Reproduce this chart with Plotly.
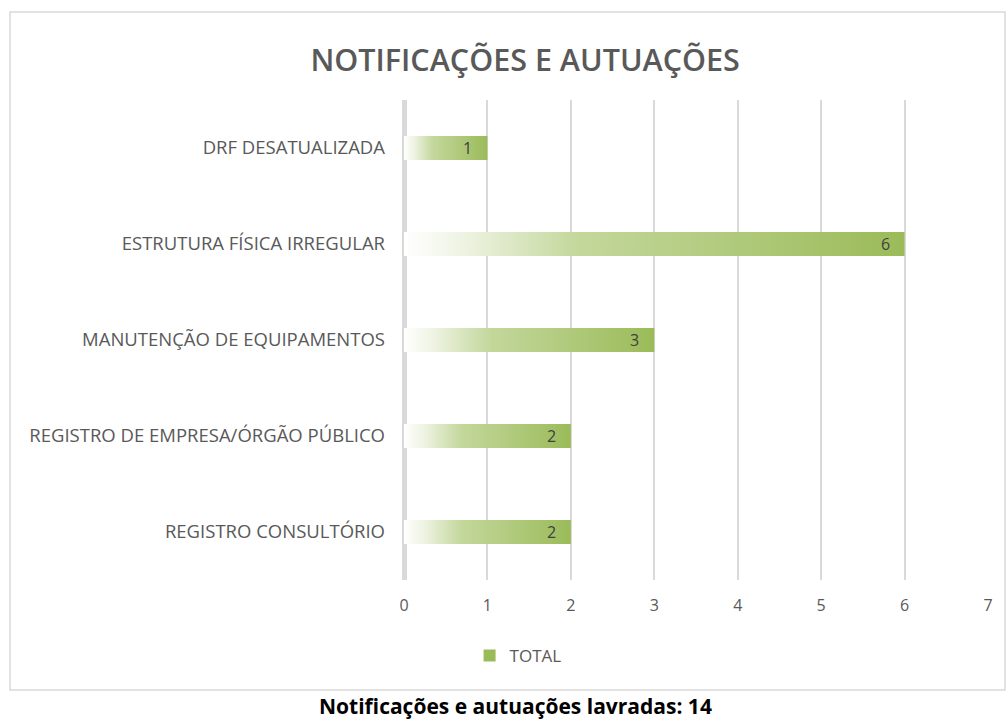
import plotly.graph_objects as go

categories = ["DRF DESATUALIZADA", "ESTRUTURA FÍSICA IRREGULAR", "MANUTENÇÃO DE EQUIPAMENTOS",
              "REGISTRO DE EMPRESA/ÓRGÃO PÚBLICO", "REGISTRO CONSULTÓRIO"]
values = [1, 6, 3, 2, 2]
series_name = "TOTAL"
x_ticks = [0, 1, 2, 3, 4, 5, 6, 7]
title_text = "NOTIFICAÇÕES E AUTUAÇÕES"
footer_text = "Notificações e autuações lavradas: 14"

GREEN = "#9bbb59"
GRAD = [[0, "rgba(255,255,255,1)"], [0.12, "#eef3e2"], [0.35, "#c3d79b"], [1, GREEN]]
GRID = "#d9d9d9"
TEXT = "#595959"
FONT = "Open Sans"

W, H = 1006, 720
L, R, T, B = 404, 18, 100, 140
pw, ph = W - L - R, H - T - B
half = 0.125

fig = go.Figure()
pos = list(range(len(categories)))
for i, (cat, v) in enumerate(zip(categories, values)):
    fig.add_trace(go.Scatter(
        x=[0, v, v, 0, 0],
        y=[i - half, i - half, i + half, i + half, i - half],
        mode="lines", line=dict(width=0), fill="toself",
        fillgradient=dict(type="horizontal", colorscale=GRAD, start=0, stop=v),
        name=series_name, showlegend=False,
        hoverinfo="skip",
    ))
    fig.add_annotation(x=v, y=i, text=str(v), showarrow=False, xanchor="right",
                       xshift=-13, font=dict(family=FONT, size=16, color="#404040"))

# legend entry
fig.add_trace(go.Bar(x=[None], y=[None], orientation="h", name=series_name,
                     marker=dict(color=GREEN, line=dict(width=0)), showlegend=True))

fig.update_layout(
    width=W, height=H,
    margin=dict(l=L, r=R, t=T, b=B),
    paper_bgcolor="white", plot_bgcolor="white",
    title=dict(text=title_text, x=0.522, xanchor="center", xref="container",
               y=1 - 60 / H, yanchor="middle", yref="container",
               font=dict(family=FONT, size=30.5, color=TEXT, weight=600)),
    xaxis=dict(range=[0, 7], tickvals=x_ticks, showgrid=True, gridcolor=GRID, gridwidth=1.5,
               zeroline=True, zerolinecolor=GRID, zerolinewidth=5, showline=False,
               ticks="", ticklabelstandoff=14,
               tickfont=dict(family=FONT, size=16, color=TEXT), fixedrange=True),
    yaxis=dict(range=[len(categories) - 0.5, -0.5], tickvals=pos, ticktext=categories,
               showgrid=False, zeroline=False, showline=False, ticks="",
               ticklabelstandoff=18,
               tickfont=dict(family=FONT, size=18.5, color=TEXT), fixedrange=True),
    legend=dict(orientation="h", x=0.515, xanchor="center", xref="container",
                y=1 - 656 / H, yanchor="middle", yref="container",
                font=dict(family=FONT, size=17, color=TEXT), itemwidth=30),
    showlegend=True,
)

# chart frame
fig.add_shape(type="rect", xref="paper", yref="paper",
              x0=(10 - L) / pw, x1=(1005 - L) / pw,
              y0=-(690 - (T + ph)) / ph, y1=1 + (T - 12) / ph,
              line=dict(color="#d9d9d9", width=1.5), fillcolor="rgba(0,0,0,0)", layer="below")

fig.add_annotation(text=footer_text, xref="paper", yref="paper",
                   x=(515 - L) / pw, y=-(706 - (T + ph)) / ph, showarrow=False,
                   xanchor="center", yanchor="middle",
                   font=dict(family=FONT, size=21, color="#000000", weight="bold"))

fig.write_html("out.html", config={"displayModeBar": False},
               post_script="document.body.style.margin='0';document.body.style.overflow='hidden';")
